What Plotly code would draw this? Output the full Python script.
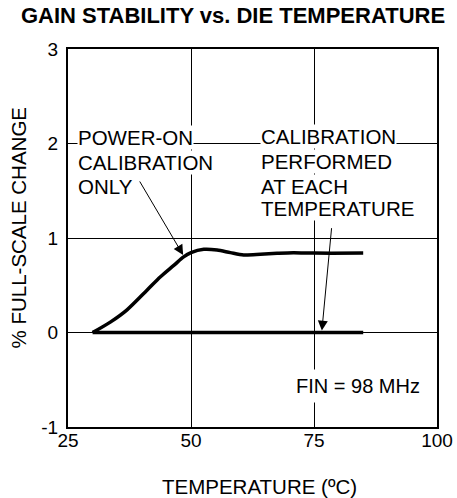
import plotly.graph_objects as go

# ---- data ----
temp_pon = [30, 33.6, 37.0, 41.1, 43.8, 46.5, 48.5, 50.0, 52.6, 55.3, 58.0, 60.7, 64.1, 67.5, 70.8, 75, 85]
gain_pon = [0.0, 0.11, 0.24, 0.45, 0.59, 0.71, 0.80, 0.845, 0.88, 0.873, 0.845, 0.82, 0.827, 0.838, 0.845, 0.84, 0.84]

temp_each = [30, 85]
gain_each = [0.0, 0.0]

x_ticks = [25, 50, 75, 100]
y_ticks = [-1, 0, 1, 2, 3]

FONT = "Liberation Sans, Arial, sans-serif"
W, H = 457, 498
L, R, T, B = 68, 20, 49, 71
PW, PH = W - L - R, H - T - B


def px(xpix):
    return (xpix - L) / PW


def py(ypix):
    return (H - B - ypix) / PH


fig = go.Figure()
fig.add_trace(go.Scatter(x=temp_pon, y=gain_pon, mode="lines",
                         line=dict(color="black", width=3.5, shape="spline", smoothing=0.8),
                         hoverinfo="skip", showlegend=False))
fig.add_trace(go.Scatter(x=temp_each, y=gain_each, mode="lines",
                         line=dict(color="black", width=3.5),
                         hoverinfo="skip", showlegend=False))

ann = []
# text lines with white backgrounds (cover gridlines like the original)
block1 = [("POWER-ON", 137.5), ("CALIBRATION", 162.5), ("ONLY", 186.2)]
for t, yc in block1:
    ann.append(dict(text=t, xref="paper", yref="paper", x=px(76.7), y=py(yc),
                    xanchor="left", yanchor="middle", showarrow=False,
                    bgcolor="white", borderpad=0, font=dict(size=20.5, color="black", family=FONT)))
block2 = [("CALIBRATION", 136.2), ("PERFORMED", 161.8), ("AT EACH", 186.5), ("TEMPERATURE", 208.5)]
for t, yc in block2:
    ann.append(dict(text=t, xref="paper", yref="paper", x=px(260), y=py(yc),
                    xanchor="left", yanchor="middle", showarrow=False,
                    bgcolor="white", borderpad=0, font=dict(size=20.5, color="black", family=FONT)))
ann.append(dict(text="FIN = 98 MHz", xref="paper", yref="paper", x=px(357.5), y=py(386.3),
                xanchor="center", yanchor="middle", showarrow=False,
                bgcolor="white", borderpad=5, font=dict(size=20, color="black", family=FONT)))

# arrows
ann.append(dict(text="", x=48.4, y=0.82, xref="x", yref="y", ax=39.4, ay=1.614, axref="x", ayref="y",
                showarrow=True, arrowhead=2, arrowsize=2, arrowwidth=1, arrowcolor="black"))
ann.append(dict(text="", x=76.6, y=0.02, xref="x", yref="y", ax=78.6, ay=1.12, axref="x", ayref="y",
                showarrow=True, arrowhead=2, arrowsize=2, arrowwidth=1, arrowcolor="black"))

# axis titles
ann.append(dict(text="% FULL-SCALE CHANGE", xref="paper", yref="paper", x=px(18), y=py(227.5),
                xanchor="center", yanchor="middle", textangle=-90, showarrow=False,
                font=dict(size=20.5, color="black", family=FONT)))
ann.append(dict(text="TEMPERATURE (ºC)", xref="paper", yref="paper", x=px(259), y=py(486.5),
                xanchor="center", yanchor="middle", showarrow=False,
                font=dict(size=20.5, color="black", family=FONT)))

fig.update_layout(
    template="none",
    width=W, height=H,
    margin=dict(l=L, r=R, t=T, b=B, pad=0, autoexpand=False),
    paper_bgcolor="white", plot_bgcolor="white",
    font=dict(family=FONT, color="black"),
    title=dict(text="<b>GAIN STABILITY vs. DIE TEMPERATURE</b>", x=233 / W, xref="container",
               xanchor="center", y=1 - 15 / H, yref="container", yanchor="middle",
               font=dict(size=22, color="black", family=FONT)),
    annotations=ann,
    showlegend=False,
)
fig.update_xaxes(range=[25, 100], tickvals=x_ticks, ticktext=[str(v) for v in x_ticks],
                 showgrid=True, gridcolor="black", gridwidth=1, automargin=False,
                 showline=True, linecolor="black", linewidth=2, mirror=True,
                 ticks="", zeroline=False, ticklabelstandoff=-5,
                 tickfont=dict(size=19, color="black", family=FONT))
fig.update_yaxes(range=[-1, 3], tickvals=y_ticks, ticktext=[str(v) for v in y_ticks],
                 showgrid=True, gridcolor="black", gridwidth=1, automargin=False,
                 showline=True, linecolor="black", linewidth=2, mirror=True,
                 ticks="", zeroline=False, ticklabelstandoff=4,
                 tickfont=dict(size=19, color="black", family=FONT))

fig.write_html("out.html", config={"displayModeBar": False, "staticPlot": True},
               post_script="document.body.style.margin='0px';document.body.style.overflow='hidden';")
